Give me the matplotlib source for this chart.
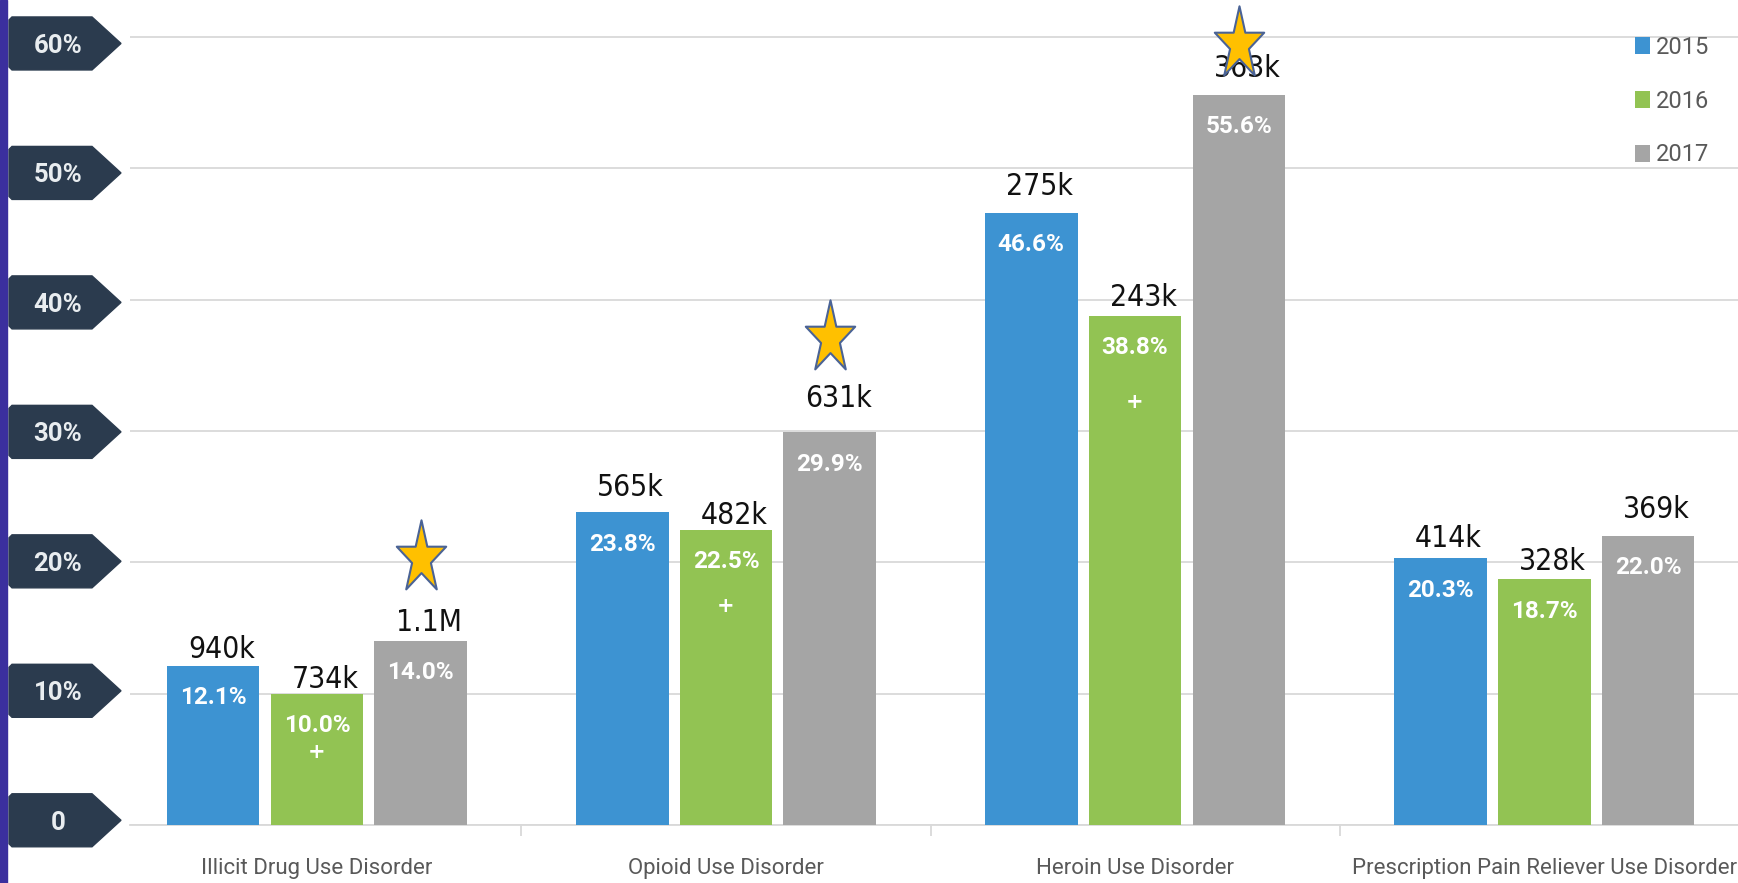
import matplotlib
matplotlib.use('Agg')
import matplotlib.pyplot as plt
import matplotlib.transforms as mtransforms
from matplotlib.patches import Polygon, Rectangle
from matplotlib.path import Path
import numpy as np

categories = ['Illicit Drug Use Disorder', 'Opioid Use Disorder',
              'Heroin Use Disorder', 'Prescription Pain Reliever Use Disorder']
years = ['2015', '2016', '2017']
pct_2015 = [12.1, 23.8, 46.6, 20.3]
pct_2016 = [10.0, 22.5, 38.8, 18.7]
pct_2017 = [14.0, 29.9, 55.6, 22.0]
count_2015 = ['940k', '565k', '275k', '414k']
count_2016 = ['734k', '482k', '243k', '328k']
count_2017 = ['1.1M', '631k', '363k', '369k']
plus_2016 = [True, True, True, False]
star_2017 = [True, True, True, False]
y_ticks = [0, 10, 20, 30, 40, 50, 60]
y_tick_labels = ['0', '10%', '20%', '30%', '40%', '50%', '60%']

colors = ['#3d93d2', '#92c353', '#a5a5a5']
W, H = 1738, 883

fig = plt.figure(figsize=(W / 100, H / 100), dpi=100)
ax = fig.add_axes([130 / W, 58 / H, 1 - 130 / W, 1 - 58 / H])
ax.set_xlim(-0.457, 3.474)
ax.set_ylim(0, 62.83)
px = 62.83 / 825  # data units per pixel (vertical)

x = np.arange(len(categories))
width = 0.227
step = 0.254
series = [(pct_2015, count_2015), (pct_2016, count_2016), (pct_2017, count_2017)]
# gap (pt) between each count label and its bar
label_gap = [[6, 12, 13, 8], [4, 4, 7, 7], [7, 18, 13, 13]]

for i, (vals, counts) in enumerate(series):
    xs = x + (i - 1) * step
    ax.bar(xs, vals, width, color=colors[i], label=years[i], zorder=3)
    for xi, v, c, g in zip(xs, vals, counts, label_gap[i]):
        ax.annotate(c, (xi, v), xytext=(6, g), textcoords='offset points',
                    ha='center', va='baseline', fontsize=21.5, color='#111111',
                    family='DejaVu Sans', fontstretch='condensed', zorder=4)
        ax.annotate(f'{v:.1f}%', (xi, v), xytext=(0, -27.5), textcoords='offset points',
                    ha='center', va='baseline', fontsize=17.5, color='white',
                    fontweight='bold', family='Roboto', zorder=4)

# '+' markers on 2016 bars
plus_drop = [42, 55, 62]
for xi, v, flag, d in zip(x, pct_2016, plus_2016, plus_drop + [0]):
    if flag:
        ax.annotate('+', (xi, v), xytext=(0, -d), textcoords='offset points',
                    ha='center', va='center', fontsize=15, color='white',
                    fontweight='bold', zorder=4)

# stars above 2017 bars
ang = np.pi / 2 + np.arange(10) * np.pi / 5
rad = np.where(np.arange(10) % 2 == 0, 1.0, 0.382)
verts = np.column_stack([0.68 * rad * np.cos(ang), rad * np.sin(ang)])
star = Path(np.vstack([verts, verts[:1]]), closed=True)
star_lift = [6.3, 7.2, 3.9]
for xi, v, flag, lift in zip(x + step, pct_2017, star_2017, star_lift + [0]):
    if flag:
        ax.plot(xi, v + lift, marker=star, ms=55, mfc='#ffc000', mec='#4a6396',
                mew=1.5, zorder=6, clip_on=False)

# axes styling
ax.set_yticks(y_ticks)
ax.tick_params(axis='y', length=0, labelleft=False)
ax.yaxis.grid(True, color='#d9d9d9', lw=1.3, zorder=0)
ax.set_axisbelow(True)
for s in ['left', 'top', 'right']:
    ax.spines[s].set_visible(False)
ax.spines['bottom'].set_color('#d9d9d9')
ax.spines['bottom'].set_linewidth(1.3)
ax.set_xticks(x)
ax.set_xticklabels(categories, fontsize=16, color='#595959', family='Roboto')
ax.set_xticks([0.5, 1.5, 2.5], minor=True)
ax.tick_params(axis='x', which='major', length=0, pad=24)
ax.tick_params(axis='x', which='minor', length=8, color='#d9d9d9', width=1.3)

# arrow-shaped y tags
trans = mtransforms.blended_transform_factory(fig.transFigure, ax.transData)
h = 26.5 * px
ch = 3 * px
for v, lab in zip(y_ticks, y_tick_labels):
    c = 0.36 + 0.986 * v
    pts = [(9 / W, c - h + ch), (9 / W, c + h - ch), (12 / W, c + h), (92 / W, c + h),
           (121 / W, c), (92 / W, c - h), (12 / W, c - h)]
    fig.patches.append(Polygon(pts, closed=True, transform=trans, color='#2b3b4e',
                               zorder=1))
    fig.text(58 / W, c, lab, transform=trans, ha='center', va='center_baseline',
             fontsize=18.5, fontweight='bold', color='#e9edf0', family='Roboto')

# purple left strip
fig.patches.append(Rectangle((0, 0), 7 / W, 1, transform=fig.transFigure,
                             color='#3b2f9e', zorder=2))

ax.legend(loc='upper left', bbox_to_anchor=(1635 / W, 1 - 36 / H),
          bbox_transform=fig.transFigure, frameon=False,
          handlelength=0.65, handleheight=0.75, handletextpad=0.25,
          labelspacing=1.3, borderpad=0, borderaxespad=0, labelcolor='#595959',
          prop={'family': 'Roboto', 'size': 17})

fig.savefig('out.png', dpi=100)
